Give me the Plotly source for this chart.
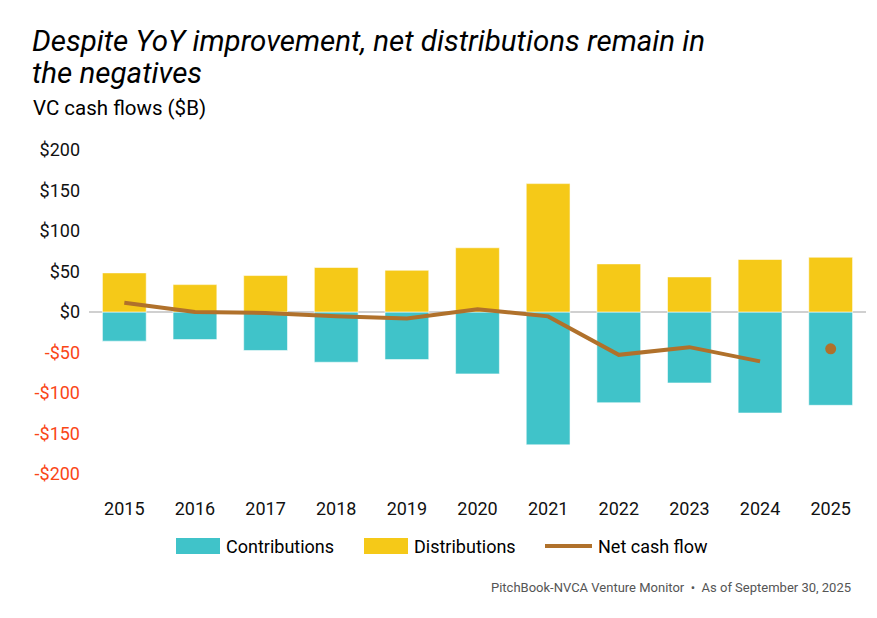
import plotly.graph_objects as go

years = ["2015", "2016", "2017", "2018", "2019", "2020", "2021", "2022", "2023", "2024", "2025"]
contributions = [-36, -34, -47.5, -62, -58.7, -76.4, -164, -112, -87.6, -124.7, -115.2]
distributions = [48.3, 33.8, 45, 54.9, 51.5, 79.3, 158.5, 59.4, 43.3, 64.8, 67.6]
net_years = ["2015", "2016", "2017", "2018", "2019", "2020", "2021", "2022", "2023", "2024"]
net_cash_flow = [11.5, 0, -1.2, -5.4, -8, 3.5, -5.4, -52.9, -43.4, -61]
net_latest_year = ["2025"]
net_latest = [-45.4]

tick_vals = [200, 150, 100, 50, 0, -50, -100, -150, -200]
tick_text = ["$200", "$150", "$100", "$50", "$0", "-$50", "-$100", "-$150", "-$200"]

TEAL = "#40C3C9"
YELLOW = "#F5C918"
BROWN = "#B0712B"
NEG = "#FA4616"
FONT = "Roboto"

W, H = 877, 618
L, R, T, B = 89, 11, 150, 144
PW, PH = W - L - R, H - T - B


def px(x):
    return (x - L) / PW


def py(y):
    return (H - B - y) / PH


fig = go.Figure()
fig.add_trace(go.Bar(x=years, y=contributions, name="Contributions",
                     marker=dict(color=TEAL, line=dict(color="rgba(255,255,255,0.55)", width=1)),
                     showlegend=False))
fig.add_trace(go.Bar(x=years, y=distributions, name="Distributions",
                     marker=dict(color=YELLOW, line=dict(color="rgba(255,255,255,0.55)", width=1)),
                     showlegend=False))
fig.add_trace(go.Scatter(x=net_years, y=net_cash_flow, name="Net cash flow", mode="lines",
                         line=dict(color=BROWN, width=4), showlegend=False))
fig.add_trace(go.Scatter(x=net_latest_year, y=net_latest, mode="markers",
                         marker=dict(color=BROWN, size=11), showlegend=False))

ticktext_col = [t if v >= 0 else f'<span style="color:{NEG}">{t}</span>' for v, t in zip(tick_vals, tick_text)]

fig.update_layout(
    width=W, height=H,
    margin=dict(l=L, r=R, t=T, b=B),
    paper_bgcolor="white", plot_bgcolor="white",
    barmode="relative", bargap=0.38,
    font=dict(family=FONT, color="#000000"),
    xaxis=dict(showgrid=False, showline=False, ticks="", type="category",
               range=[-0.5, len(years) - 0.5], autorange=False,
               tickfont=dict(size=18, color="#111"),
               ticklabelstandoff=22),
    yaxis=dict(range=[-200, 200], tickvals=tick_vals, ticktext=ticktext_col, showgrid=False,
               zeroline=True, zerolinecolor="#D0D0D0", zerolinewidth=2,
               tickfont=dict(size=18, color="#111"), ticks="", ticklabelstandoff=8),
)

ann = []
title_lines = ["Despite YoY improvement, net distributions remain in", "the negatives"]
for i, line in enumerate(title_lines):
    ann.append(dict(text=line, xref="paper", yref="paper", x=px(30), y=py(41 + 32 * i),
                    xanchor="left", yanchor="middle", align="left", showarrow=False,
                    font=dict(family=FONT, size=29.5, style="italic", color="#000")))
ann.append(dict(text="VC cash flows ($B)", xref="paper", yref="paper", x=px(31), y=py(108),
                xanchor="left", yanchor="middle", showarrow=False,
                font=dict(family=FONT, size=20.5, color="#000")))
ann.append(dict(text="PitchBook-NVCA Venture Monitor  •  As of September 30, 2025",
                xref="paper", yref="paper", x=px(853), y=py(587), xanchor="right", yanchor="middle",
                showarrow=False, font=dict(family=FONT, size=13, color="#555")))

# custom legend
shapes = []
legend_items = [("Contributions", TEAL, "rect", 176), ("Distributions", YELLOW, "rect", 364),
                ("Net cash flow", BROWN, "line", 545)]
ly = 546
for label, col, kind, x0 in legend_items:
    if kind == "rect":
        shapes.append(dict(type="rect", xref="paper", yref="paper", x0=px(x0), x1=px(x0 + 44),
                           y0=py(ly + 8), y1=py(ly - 8), fillcolor=col, line=dict(width=0)))
    else:
        shapes.append(dict(type="line", xref="paper", yref="paper", x0=px(x0), x1=px(x0 + 47),
                           y0=py(ly), y1=py(ly), line=dict(color=col, width=4)))
    ann.append(dict(text=label, xref="paper", yref="paper", x=px(x0 + (48 if kind == "rect" else 51)),
                    y=py(ly), xanchor="left", yanchor="middle", showarrow=False,
                    font=dict(family=FONT, size=18, color="#000")))

fig.update_layout(annotations=ann, shapes=shapes)
fig.write_html("out.html")
